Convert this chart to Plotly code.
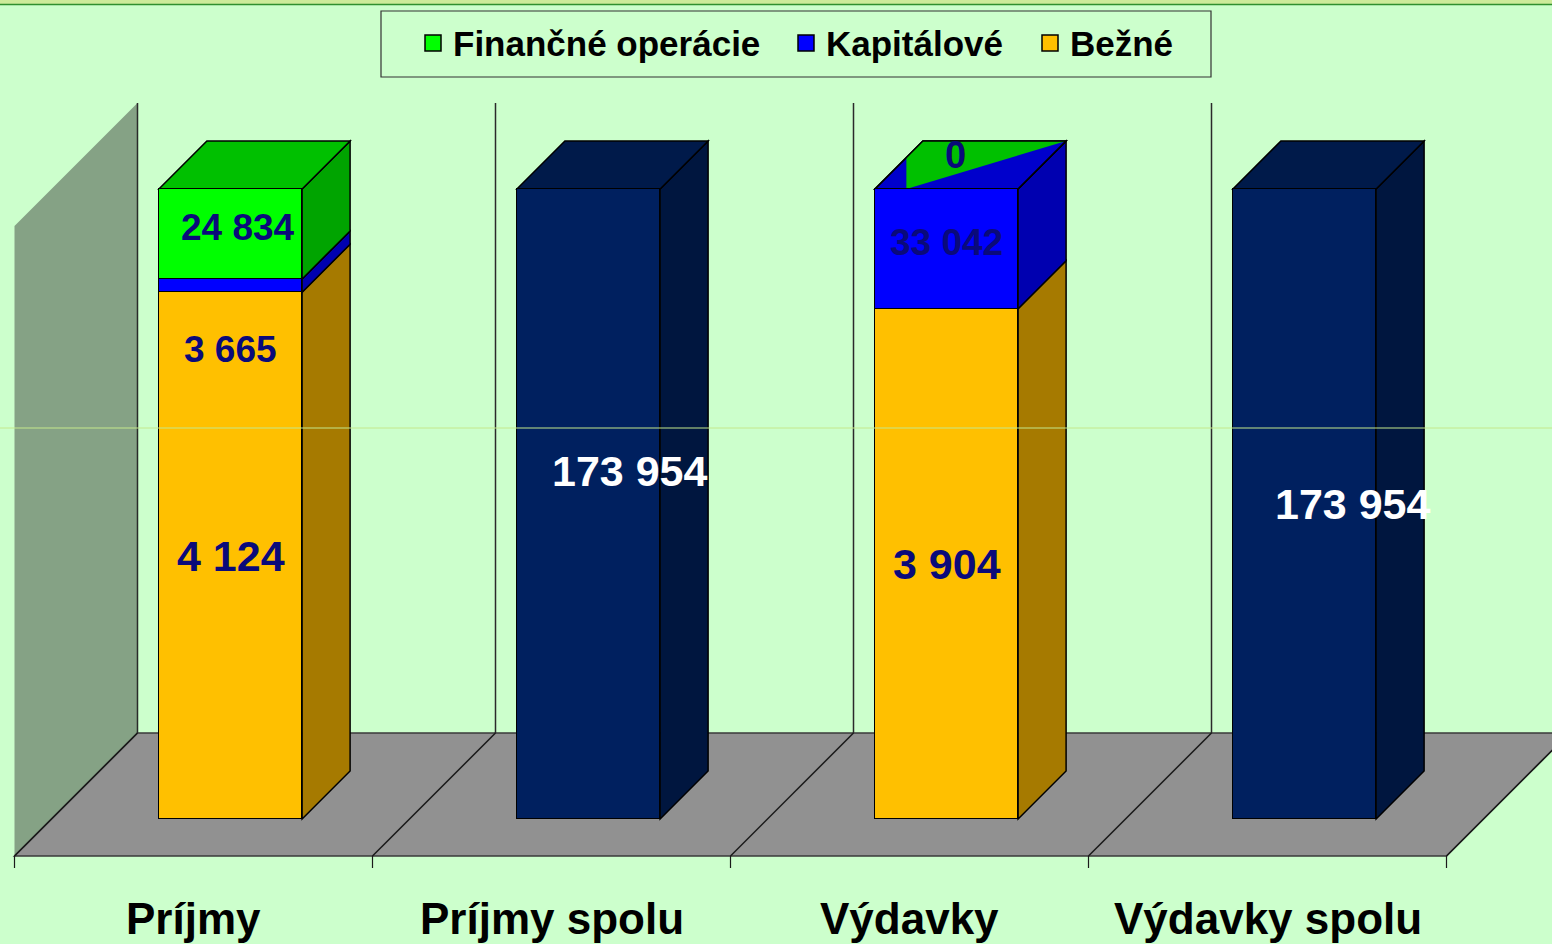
import plotly.graph_objects as go

# ---------------- data ----------------
categories = ["Príjmy", "Príjmy spolu", "Výdavky", "Výdavky spolu"]
bezne = [145455, 0, 140912, 0]
kapitalove = [3665, 0, 33042, 0]
financne = [24834, 0, 0, 0]
spolu = [0, 173954, 0, 173954]
label_bezne = ["4 124", "", "3 904", ""]
label_kap = ["3 665", "", "33 042", ""]
label_fin = ["24 834", "", "0", ""]
label_spolu = ["", "173 954", "", "173 954"]
legend_names = ["Finančné operácie", "Kapitálové", "Bežné"]
VMAX = 173954

# ---------------- geometry (pseudo-3D projection) ----------------
W, H = 1552, 944
PX_CAT = 358.0          # px per category
X0 = 230.5              # px of category 0 front-face centre
Y0 = 819.0              # px of value 0 on bar front plane
K = VMAX / 630.0        # value units per px
BAR_W = 0.4
D_BAR = 48              # bar depth (px, oblique)
D_FRONT = -37           # floor front edge
D_BACK = 86             # floor back edge / back wall

def P(xu, v, d):
    return (xu + d / PX_CAT, v + d * K)

def path(pts):
    return "M " + " L ".join(f"{x:.5f},{y:.3f}" for x, y in pts) + " Z"

xs = list(range(len(categories)))
shapes = []

def poly(pts, fill, line="rgba(0,0,0,0)", lw=0, layer="below"):
    shapes.append(dict(type="path", path=path(pts), xref="x", yref="y",
                       fillcolor=fill, line=dict(color=line, width=lw), layer=layer))

def seg(p1, p2, color, lw, layer="below"):
    shapes.append(dict(type="line", x0=p1[0], y0=p1[1], x1=p2[0], y1=p2[1],
                       xref="x", yref="y", line=dict(color=color, width=lw), layer=layer))

n = len(categories)
# left wall
poly([P(-0.5, 0, D_FRONT), P(-0.5, VMAX, D_FRONT), P(-0.5, VMAX, D_BACK), P(-0.5, 0, D_BACK)], "#85A285")
# floor
poly([P(-0.5, 0, D_FRONT), P(n - 0.5, 0, D_FRONT), P(n - 0.5, 0, D_BACK), P(-0.5, 0, D_BACK)],
     "#919191", "#3a3a3a", 1.5)
# back dividers and floor dividers, ticks
for j in range(n + 1):
    xb = j - 0.5
    if j < n:
        seg(P(xb, 0, D_BACK), P(xb, VMAX, D_BACK), "#2a2a2a", 1.5)
    seg(P(xb, 0, D_FRONT), P(xb, 0, D_BACK), "#1a1a1a", 1.5)
    p = P(xb, 0, D_FRONT)
    seg(p, (p[0], p[1] - 12 * K), "#1a1a1a", 1.2)

# bar side and top faces
series = [
    (bezne, "#FFC000", "#A67A00", "#D9A300", "Bežné"),
    (kapitalove, "#0000FF", "#0000B0", "#0000CC", "Kapitálové"),
    (financne, "#00FF00", "#00A400", "#00C000", "Finančné operácie"),
    (spolu, "#00205F", "#00163F", "#001A4A", None),
]
colors = {s[4]: s[1] for s in series if s[4]}
base = [0.0] * n
tops = [None] * n
for vals, front, side, top, name in series:
    for i in range(n):
        v = vals[i]
        if v > 0:
            v0, v1 = base[i], base[i] + v
            xr = i + BAR_W / 2
            poly([P(xr, v0, 0), P(xr, v0, D_BAR), P(xr, v1, D_BAR), P(xr, v1, 0)], side, "#000000", 1.5)
            base[i] = v1
            tops[i] = top
for i in range(n):
    vt = base[i]
    xl, xr = i - BAR_W / 2, i + BAR_W / 2
    poly([P(xl, vt, 0), P(xr, vt, 0), P(xr, vt, D_BAR), P(xl, vt, D_BAR)], tops[i], "#000000", 1.5)
    # zero-height Finančné segment on top of Výdavky shows as a green sliver
    if financne[i] == 0 and kapitalove[i] > 0:
        xm = xl + 0.22 * BAR_W
        a = P(xm, vt, 0)
        b = (xm, vt + (0.22 * BAR_W * PX_CAT) * K)
        poly([a, b, P(xl, vt, D_BAR), P(xr, vt, D_BAR)], "#00C000")
        poly([P(xl, vt, 0), P(xr, vt, 0), P(xr, vt, D_BAR), P(xl, vt, D_BAR)], "rgba(0,0,0,0)", "#000000", 1.5)

fig = go.Figure()
for vals, front, side, top, name in series:
    fig.add_trace(go.Bar(
        x=xs, y=[v if v > 0 else None for v in vals], width=BAR_W,
        marker=dict(color=front, line=dict(color="#000000", width=1.5)),
        name=name if name else "Spolu", showlegend=False,
        hoverinfo="skip"))

# labels
ann = []
FONT = "Liberation Sans, Arial, sans-serif"
def lab(x, y, text, size, color, xshift=0, yshift=0):
    ann.append(dict(x=x, y=y, xref="x", yref="y", text=text, showarrow=False,
                    xshift=xshift, yshift=yshift, xanchor="center", yanchor="middle",
                    font=dict(family=FONT, size=size, color=color, weight="bold")))

NAVY = "#0A0A7A"
for i in range(n):
    if label_bezne[i]:
        lab(i, bezne[i] / 2, label_bezne[i], 43, NAVY)
    if label_spolu[i]:
        lab(i, spolu[i] / 2, label_spolu[i], 43, "#FFFFFF", xshift=41 if i == 1 else 48, yshift=33 if i == 1 else 0)
    if label_kap[i]:
        if kapitalove[i] < 0.05 * VMAX:
            lab(i, bezne[i], label_kap[i], 37, NAVY, yshift=-57)
        else:
            lab(i, bezne[i] + kapitalove[i] / 2, label_kap[i], 37, NAVY, yshift=6)
    if label_fin[i]:
        if financne[i] > 0:
            lab(i, bezne[i] + kapitalove[i] + financne[i] / 2, label_fin[i], 37, NAVY, xshift=7, yshift=6)
        else:
            lab(i, bezne[i] + kapitalove[i], label_fin[i], 38, NAVY, xshift=9, yshift=34)

# category labels
for i, c in enumerate(categories):
    ann.append(dict(x=i + D_FRONT / PX_CAT, y=1 - 918 / H, xref="x", yref="paper", text=c,
                    showarrow=False, xanchor="center", yanchor="middle",
                    font=dict(family=FONT, size=44, color="#000000", weight="bold")))

# legend (drawn as box + swatches + text)
shapes.append(dict(type="rect", xref="paper", yref="paper", x0=381 / W, x1=1211 / W,
                   y0=1 - 77 / H, y1=1 - 11 / H, fillcolor="rgba(0,0,0,0)",
                   line=dict(color="#333333", width=1.2), layer="above"))
leg_sw = [425, 798, 1042]
leg_tx = [451, 824, 1068]
for nm, sx, tx in zip(legend_names, leg_sw, leg_tx):
    shapes.append(dict(type="rect", xref="paper", yref="paper", x0=sx / W, x1=(sx + 16) / W,
                       y0=1 - 51 / H, y1=1 - 35 / H, fillcolor=colors[nm],
                       line=dict(color="#000000", width=1.5), layer="above"))
    ann.append(dict(x=tx / W, y=1 - 43 / H, xref="paper", yref="paper", text=nm, showarrow=False,
                    xanchor="left", yanchor="middle",
                    font=dict(family=FONT, size=35, color="#000000", weight="bold")))

# decorative borders
shapes.append(dict(type="rect", xref="paper", yref="paper", x0=0, x1=1, y0=1 - 4 / H, y1=1,
                   fillcolor="#CDEB9A", line=dict(width=0), layer="above"))
shapes.append(dict(type="line", xref="paper", yref="paper", x0=0, x1=1, y0=1 - 4.5 / H, y1=1 - 4.5 / H,
                   line=dict(color="#2F8F2F", width=1.5), layer="above"))
shapes.append(dict(type="line", xref="paper", yref="paper", x0=0, x1=1, y0=1 - 428 / H, y1=1 - 428 / H,
                   line=dict(color="#C4E88C", width=1), layer="above"))

fig.update_layout(
    width=W, height=H,
    margin=dict(l=0, r=0, t=0, b=0, pad=0),
    paper_bgcolor="#CCFFCC", plot_bgcolor="#CCFFCC",
    barmode="stack", bargap=0,
    xaxis=dict(range=[(0 - X0) / PX_CAT, (W - X0) / PX_CAT], visible=False, fixedrange=True),
    yaxis=dict(range=[(Y0 - H) * K, Y0 * K], visible=False, fixedrange=True),
    shapes=shapes, annotations=ann,
    showlegend=False,
)

fig.write_html("out.html", config={"displayModeBar": False},
               post_script="document.body.style.margin='0';document.body.style.overflow='hidden';")
